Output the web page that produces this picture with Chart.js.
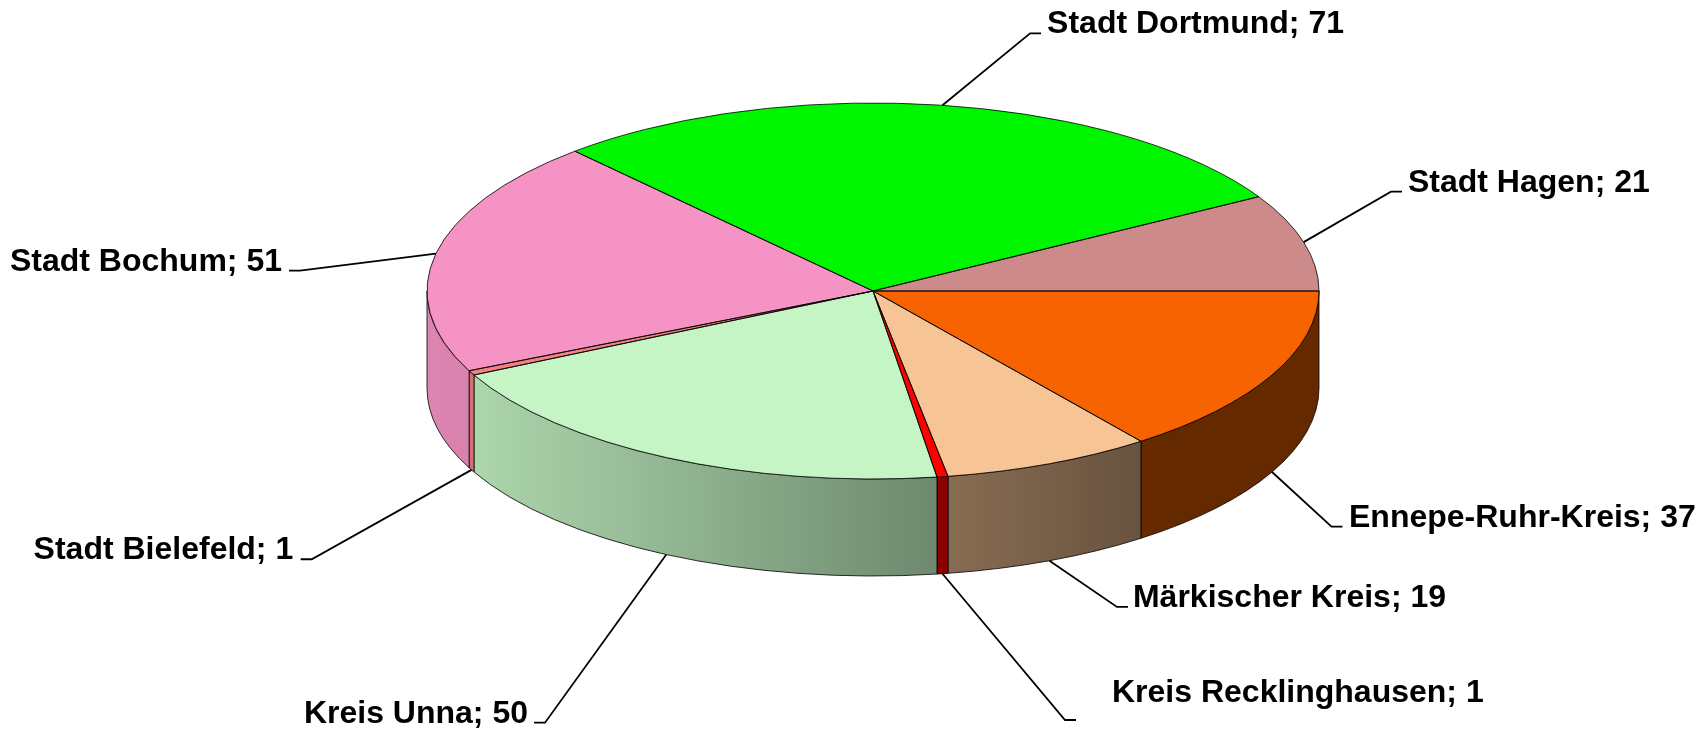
<!DOCTYPE html>
<html>
<head>
<meta charset="utf-8">
<script src="https://cdn.jsdelivr.net/npm/chart.js@4/dist/chart.umd.min.js"></script>
<style>
  body { margin: 0; background: #fff; }
  #wrap { width: 1700px; height: 729px; position: relative; }
</style>
</head>
<body>
<div id="wrap"><canvas id="pie"></canvas></div>
<script>
// values, in drawing order (clockwise from 3 o'clock)
const regions = ["Ennepe-Ruhr-Kreis", "Märkischer Kreis", "Kreis Recklinghausen", "Kreis Unna",
  "Stadt Bielefeld", "Stadt Bochum", "Stadt Dortmund", "Stadt Hagen"];
const counts = [37, 19, 1, 50, 1, 51, 71, 21];

// slice colours (top face)
const topColors = ["#F76300", "#F7C495", "#FF0000", "#C5F5C5", "#F48080", "#F593C4", "#00F500", "#CC8A8A"];

// where the flattened pie sits on the page
const CX = 873, CY = 291, RX = 446, RY = 188, DEPTH = 97;

// leader line elbows relative to the slice anchor, and text offset relative to the elbow
const labelOffsets = [
  [59.5, 54.7, 17.5, 0],
  [67.5, 46.3, 16, 0],
  [122.5, 146.3, 47, -18],
  [-121.3, 168.1, -17, 0],
  [-159.8, 89.4, -18.5, 0],
  [-135.9, 17.1, -18, 0],
  [87.6, -72, 17, 0],
  [87.3, -50.5, 17, 0]
];

function hexToRgb(hex) {
  const n = parseInt(hex.slice(1), 16);
  return [(n >> 16) & 255, (n >> 8) & 255, n & 255];
}

// side walls get darker towards the right
function shadeAt(x) {
  return Math.max(0.41, Math.min(0.9, 0.9 - 0.00068 * (x - 437)));
}

function shade(hex, f) {
  const c = hexToRgb(hex);
  return `rgb(${Math.round(c[0] * f)},${Math.round(c[1] * f)},${Math.round(c[2] * f)})`;
}

function drawWall(ctx, arc, i) {
  const s = Math.max(arc.startAngle, 0);
  const e = Math.min(arc.endAngle, Math.PI);
  if (e <= s) return;
  const xl = CX + RX * Math.cos(e);
  const xr = CX + RX * Math.cos(s);
  const grad = ctx.createLinearGradient(xl, 0, xr, 0);
  for (let k = 0; k <= 6; k++) {
    const t = k / 6;
    grad.addColorStop(t, shade(topColors[i], shadeAt(xl + t * (xr - xl))));
  }
  ctx.save();
  ctx.beginPath();
  ctx.ellipse(CX, CY, RX, RY, 0, s, e, false);
  ctx.lineTo(CX + RX * Math.cos(e), CY + DEPTH + RY * Math.sin(e));
  ctx.ellipse(CX, CY + DEPTH, RX, RY, 0, e, s, true);
  ctx.closePath();
  ctx.fillStyle = grad;
  ctx.fill();
  ctx.lineWidth = 1;
  ctx.strokeStyle = "rgba(0,0,0,0.8)";
  ctx.stroke();
  ctx.restore();
}

const pie3d = {
  id: "pie3d",
  beforeDatasetsDraw(chart) {
    const ctx = chart.ctx;
    const arcs = chart.getDatasetMeta(0).data;
    arcs.forEach((arc, i) => drawWall(ctx, arc, i));
    // squash the library's round pie into the tilted ellipse
    const a = arcs[0];
    ctx.save();
    ctx.translate(CX, CY);
    ctx.scale(RX / a.outerRadius, RY / a.outerRadius);
    ctx.translate(-a.x, -a.y);
  },
  afterDatasetsDraw(chart) {
    const ctx = chart.ctx;
    ctx.restore();
    const arcs = chart.getDatasetMeta(0).data;
    // slice outlines
    ctx.save();
    ctx.lineWidth = 1;
    ctx.strokeStyle = "rgba(0,0,0,0.8)";
    arcs.forEach((arc) => {
      ctx.beginPath();
      ctx.moveTo(CX, CY);
      ctx.ellipse(CX, CY, RX, RY, 0, arc.startAngle, arc.endAngle, false);
      ctx.closePath();
      ctx.stroke();
    });
    ctx.restore();

    // labels with leader lines
    ctx.save();
    ctx.font = "bold 32px 'Liberation Sans', Arial, sans-serif";
    ctx.textBaseline = "alphabetic";
    ctx.fillStyle = "#000";
    ctx.strokeStyle = "#000";
    ctx.lineWidth = 1.8;
    arcs.forEach((arc, i) => {
      const mid = (arc.startAngle + arc.endAngle) / 2;
      const ax = CX + RX * Math.cos(mid);
      let ay = CY + RY * Math.sin(mid);
      if (Math.sin(mid) > 0) ay += DEPTH;
      const off = labelOffsets[i];
      const ex = ax + off[0];
      const ey = ay + off[1];
      const right = off[0] > 0;
      const hx = ex + (right ? 11 : -11);
      ctx.beginPath();
      ctx.moveTo(ax, ay);
      ctx.lineTo(ex, ey);
      ctx.lineTo(hx, ey);
      ctx.stroke();
      ctx.textAlign = right ? "left" : "right";
      ctx.fillText(`${regions[i]}; ${counts[i]}`, ex + off[2], ey + off[3]);
    });
    ctx.restore();
  }
};

new Chart(document.getElementById("pie"), {
  type: "pie",
  data: {
    labels: regions,
    datasets: [{
      data: counts,
      backgroundColor: topColors,
      borderWidth: 0,
      clip: false
    }]
  },
  options: {
    responsive: true,
    maintainAspectRatio: false,
    animation: false,
    events: [],
    rotation: 90,
    plugins: {
      legend: { display: false },
      tooltip: { enabled: false }
    }
  },
  plugins: [pie3d]
});
</script>
</body>
</html>
